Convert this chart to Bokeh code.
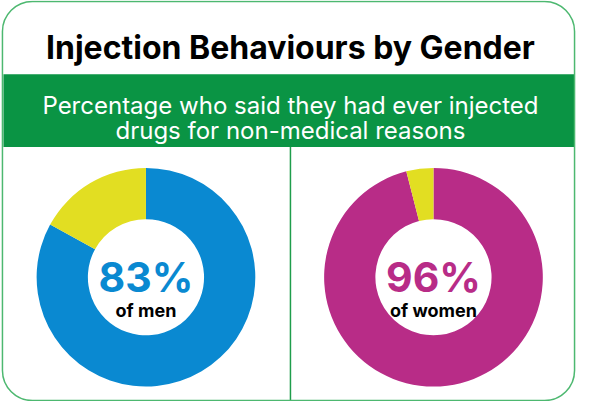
import numpy as np
from bokeh.plotting import figure
from bokeh.models import Range1d, ColumnDataSource
from bokeh.core.properties import value
from bokeh.embed import file_html
from bokeh.resources import INLINE

# ---- data ----
title = "Injection Behaviours by Gender"
subtitle_lines = ["Percentage who said they had ever injected",
                  "drugs for non-medical reasons"]
groups = ["men", "women"]
men_values = [83, 17]       # injected, not injected
women_values = [96, 4]
men_colors = ["#0A89D1", "#E2DE22"]
women_colors = ["#B82C87", "#E2DE22"]
big_labels = ["83%", "96%"]
small_labels = ["of men", "of women"]

H = 417  # reference pixel frame (y measured downwards in the reference)

def Y(y_ref):
    return H - y_ref

p = figure(width=576, height=401, output_backend="svg", toolbar_location=None,
           x_range=Range1d(1, 591), y_range=Range1d(2, 415), min_border=0)
p.axis.visible = False
p.grid.visible = False
p.outline_line_color = None
p.background_fill_color = "white"
p.border_fill_color = "white"

# green banner
p.quad(left=4, right=589, bottom=Y(153), top=Y(78), fill_color="#0A9444", line_color=None)
# divider
p.segment(x0=298, y0=Y(414), x1=298, y1=Y(153), line_color="#1F9D4B", line_width=1.5)
# rounded outer frame
p.quad(left=3, right=589, bottom=Y(414), top=Y(3), fill_color=None,
       line_color="#4DB870", line_width=1.5, border_radius=30)

# donuts
centers_x = [150, 444.5]
center_y = Y(287)
for vals, cols, cx in [(men_values, men_colors, centers_x[0]),
                       (women_values, women_colors, centers_x[1])]:
    fr = np.array(vals, dtype=float) / sum(vals)
    cum = np.concatenate([[0], np.cumsum(fr)])
    start = np.pi / 2 - 2 * np.pi * cum[:-1]
    end = np.pi / 2 - 2 * np.pi * cum[1:]
    src = ColumnDataSource(dict(start=start, end=end, color=cols))
    p.annular_wedge(x=cx, y=center_y, inner_radius=59.5, outer_radius=112,
                    start_angle="start", end_angle="end", direction="clock",
                    fill_color="color", line_color=None, source=src)

# texts
p.text(x=[298], y=[Y(50)], text=[title], text_font=value("Inter"), text_font_style="bold",
       text_font_size="32px", text_color="#000000", text_align="center", text_baseline="alphabetic")
p.text(x=[298, 298], y=[Y(110), Y(136)], text=subtitle_lines, text_font=value("Inter"),
       text_font_size="24px", text_color="#FFFFFF", text_align="center", text_baseline="alphabetic")

p.text(x=centers_x, y=[Y(287), Y(287)], text=big_labels, text_font=value("Inter"),
       text_font_style="bold", text_font_size="41px", text_color=["#0A89D1", "#B82C87"],
       text_align="center", text_baseline="alphabetic")
p.text(x=centers_x, y=[Y(321), Y(321)], text=small_labels, text_font=value("Inter"),
       text_font_style="bold", text_font_size="18px", text_color="#000000",
       text_align="center", text_baseline="alphabetic")

open("out.html", "w").write(file_html(p, INLINE))
